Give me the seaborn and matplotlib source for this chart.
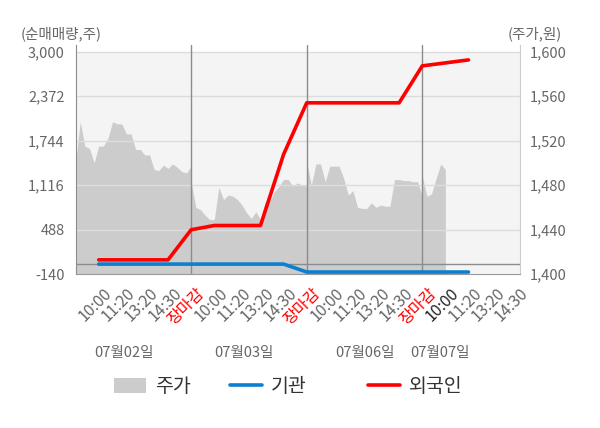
import numpy as np
import pandas as pd
import matplotlib
matplotlib.use('Agg')
import matplotlib.pyplot as plt
import matplotlib.transforms as mtransforms
from matplotlib.patches import Patch
from matplotlib.lines import Line2D
from matplotlib.ticker import FuncFormatter
import seaborn as sns

# dates and the intraday labels used on the x axis
dates = ['07월02일', '07월03일', '07월06일', '07월07일']
times = ['10:00', '11:20', '13:20', '14:30', '장마감']

# net buying (shares) at each time label, 07/02 10:00 .. 07/07 11:20
foreign = [60, 60, 60, 60, 485, 545, 545, 545, 1550, 2278, 2278, 2278, 2278, 2278,
           2800, 2842, 2884]
institution = [0, 0, 0, 0, 0, 0, 0, 0, 0, -112, -112, -112, -112, -112,
               -112, -112, -112]

# share price (won), sampled evenly from open to close of each day
price_0702 = [1500, 1537, 1515, 1513, 1500, 1515, 1515, 1522, 1537, 1535, 1535, 1526, 1526,
              1512, 1512, 1507, 1507, 1494, 1493, 1498, 1495, 1499, 1496, 1492, 1491, 1497]
price_0703 = [1483, 1460, 1458, 1453, 1449, 1449, 1478, 1467, 1471, 1470, 1467, 1462, 1455,
              1450, 1456, 1449, 1465, 1465, 1474, 1479, 1485, 1485, 1479, 1482, 1480, 1479]
price_0706 = [1501, 1480, 1499, 1499, 1483, 1497, 1497, 1497, 1486, 1471, 1475, 1460, 1459,
              1459, 1464, 1460, 1462, 1461, 1461, 1485, 1485, 1484, 1484, 1483, 1483, 1470]
price_0707 = [1488, 1470, 1472, 1486, 1499, 1494]
prices = [price_0702, price_0703, price_0706, price_0707]

left_ticks = [-140, 488, 1116, 1744, 2372, 3000]
right_ticks = [1400, 1440, 1480, 1520, 1560, 1600]

RED = '#ff0000'
BLUE = '#0b7fd0'
FILL = '#cccccc'
GREY = '#666666'

# tables
n_labels = len(dates) * len(times) - 1
labels = (times * len(dates))[:n_labels]
flows = pd.DataFrame({'slot': np.arange(len(foreign)),
                      '외국인': foreign, '기관': institution})
frames = []
for d, vals in enumerate(prices):
    start = d * len(times) - 1
    x = start + np.arange(len(vals)) * len(times) / (len(price_0702) - 1)
    frames.append(pd.DataFrame({'slot': x, 'price': vals}))
price_df = pd.concat(frames, ignore_index=True)
day_edges = [d * len(times) - 1 for d in range(len(dates))]

sns.set_style('white')
plt.rcParams['font.family'] = ['Noto Sans CJK KR', 'DejaVu Sans']

fig = plt.figure(figsize=(6, 4.28), dpi=100)
ax = fig.add_axes([0.126, 0.3598, 0.7407, 0.5351])
ax2 = ax.twinx()
ax.set_zorder(2)
ax2.set_zorder(1)
ax.patch.set_visible(False)

# price area on the right axis
ax2.set_ylim(1400, 1606)
ax2.axhspan(1400, 1600, color='#f4f4f4', lw=0, zorder=0)
ax2.fill_between(price_df['slot'], 1400, price_df['price'], color=FILL, lw=0, zorder=1)

# flows on the left axis
ax.set_ylim(-140, 3095)
ax.set_xlim(-0.97, 18.23)
for v in left_ticks[1:]:
    ax.axhline(v, color='#dcdcdc', lw=1, zorder=1)
for e in day_edges[1:]:
    ax.axvline(e, color='#8c8c8c', lw=1, zorder=2)
ax.axhline(0, color='#8c8c8c', lw=1, zorder=2)
sns.lineplot(data=flows, x='slot', y='기관', color=BLUE, lw=2.6, ax=ax, zorder=3)
sns.lineplot(data=flows, x='slot', y='외국인', color=RED, lw=2.6, ax=ax, zorder=4)
ax.set_xlabel('')
ax.set_ylabel('')
ax2.set_ylabel('')

ax.set_yticks(left_ticks)
ax.yaxis.set_major_formatter(FuncFormatter(lambda v, p: f'{v:,.0f}'))
ax2.set_yticks(right_ticks)
ax2.yaxis.set_major_formatter(FuncFormatter(lambda v, p: f'{v:,.0f}'))
ax.tick_params(axis='y', length=0, pad=8, labelsize=10.5, labelcolor=GREY)
ax2.tick_params(axis='y', length=0, pad=7, labelsize=10.5, labelcolor=GREY)

ax.set_xticks(np.arange(n_labels))
ax.set_xticklabels(labels, rotation=45, ha='right', rotation_mode='anchor', fontsize=11.5)
ax.set_xticks(day_edges, minor=True)
ax.tick_params(axis='x', which='major', length=0, pad=8)
ax.tick_params(axis='x', which='minor', length=4, width=1, color='#999999', direction='out')
shift = mtransforms.ScaledTranslation(0.05, 0, fig.dpi_scale_trans)
for i, t in enumerate(ax.get_xticklabels()):
    t.set_transform(t.get_transform() + shift)
    if t.get_text() == '장마감':
        t.set_color(RED)
    elif i == n_labels - 4:
        t.set_color('#222222')
    else:
        t.set_color(GREY)

for a in (ax, ax2):
    a.spines['top'].set_visible(False)
ax.spines['left'].set_color('#8c8c8c')
ax.spines['bottom'].set_color('#999999')
ax.spines['right'].set_visible(False)
ax2.spines['left'].set_visible(False)
ax2.spines['bottom'].set_visible(False)
ax2.spines['right'].set_color('#cccccc')

# date captions and axis titles
for x, d in zip([0.207, 0.407, 0.608, 0.733], dates):
    fig.text(x, 0.175, d, ha='center', va='center', fontsize=10.5, color=GREY)
fig.text(0.102, 0.92, '(순매매량,주)', ha='center', va='center', fontsize=10.5, color=GREY)
fig.text(0.892, 0.92, '(주가,원)', ha='center', va='center', fontsize=10.5, color=GREY)

# legend, one entry per column
handles = [Patch(facecolor=FILL, edgecolor='none'),
           Line2D([], [], color=BLUE, lw=2.6),
           Line2D([], [], color=RED, lw=2.6)]
for h, name, x in zip(handles, ['주가', '기관', '외국인'], [0.19, 0.383, 0.613]):
    leg = fig.legend([h], [name], loc='center left', bbox_to_anchor=(x, 0.097),
                     frameon=False, fontsize=14, handlelength=1.65, handleheight=0.8,
                     handletextpad=0.45, borderpad=0, borderaxespad=0,
                     labelcolor='#333333')

fig.savefig('out.png', dpi=100)
